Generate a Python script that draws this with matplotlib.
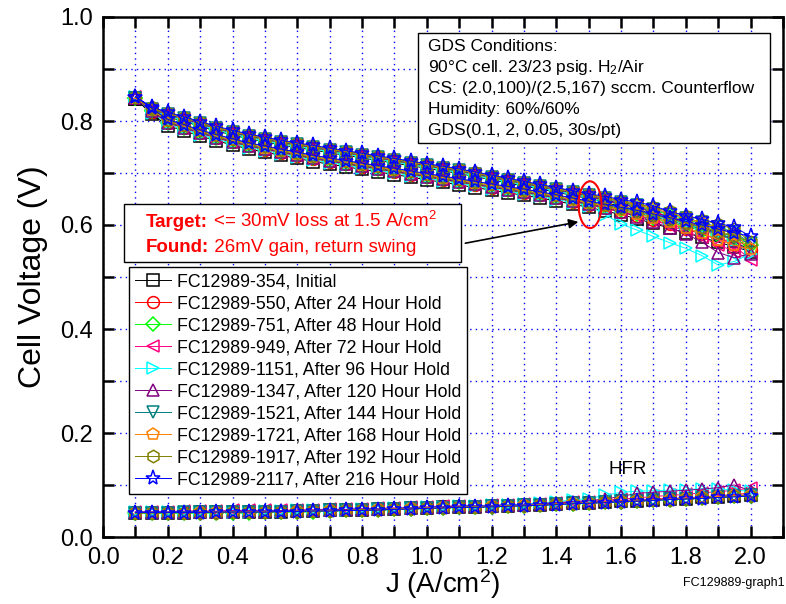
import matplotlib.pyplot as plt
from matplotlib.patches import Rectangle, Ellipse
from matplotlib.ticker import MultipleLocator

plt.rcParams['font.family'] = 'Liberation Sans'
plt.rcParams['mathtext.fontset'] = 'custom'
plt.rcParams['mathtext.rm'] = 'Liberation Sans'
plt.rcParams['mathtext.it'] = 'Liberation Sans:italic'
plt.rcParams['mathtext.bf'] = 'Liberation Sans:bold'

# current density set points (A/cm2), forward sweep 0.1 -> 2.0
J = [0.10, 0.15, 0.20, 0.25, 0.30, 0.35, 0.40, 0.45, 0.50, 0.55,
     0.60, 0.65, 0.70, 0.75, 0.80, 0.85, 0.90, 0.95, 1.00, 1.05,
     1.10, 1.15, 1.20, 1.25, 1.30, 1.35, 1.40, 1.45, 1.50, 1.55,
     1.60, 1.65, 1.70, 1.75, 1.80, 1.85, 1.90, 1.95, 2.00]
# return sweep uses the same points minus the 2.0 turn-around
J_ret = J[:-1]

# cell voltage, forward (fwd) and return (ret) sweeps, return listed low -> high current
v354_fwd = [0.843, 0.813, 0.791, 0.781, 0.771, 0.762, 0.754, 0.746, 0.740, 0.734, 0.728, 0.722, 0.717, 0.712, 0.707, 0.702, 0.697, 0.692, 0.687, 0.682, 0.677, 0.672, 0.667, 0.662, 0.657, 0.652, 0.646, 0.640, 0.634, 0.627, 0.620, 0.612, 0.603, 0.594, 0.585, 0.576, 0.567, 0.558, 0.549]
v354_ret = [0.843, 0.818, 0.808, 0.799, 0.790, 0.781, 0.773, 0.766, 0.760, 0.754, 0.749, 0.744, 0.739, 0.734, 0.729, 0.724, 0.719, 0.714, 0.709, 0.704, 0.699, 0.693, 0.687, 0.681, 0.675, 0.669, 0.663, 0.657, 0.651, 0.643, 0.636, 0.629, 0.621, 0.612, 0.603, 0.593, 0.583, 0.570]
v550_fwd = [0.844, 0.818, 0.796, 0.786, 0.776, 0.767, 0.759, 0.751, 0.745, 0.739, 0.733, 0.727, 0.722, 0.717, 0.712, 0.707, 0.702, 0.697, 0.692, 0.687, 0.682, 0.677, 0.672, 0.667, 0.662, 0.657, 0.651, 0.645, 0.639, 0.632, 0.625, 0.618, 0.610, 0.601, 0.592, 0.582, 0.572, 0.562, 0.552]
v550_ret = [0.844, 0.821, 0.811, 0.802, 0.793, 0.784, 0.776, 0.769, 0.763, 0.757, 0.752, 0.747, 0.742, 0.737, 0.732, 0.727, 0.722, 0.717, 0.712, 0.707, 0.702, 0.696, 0.690, 0.684, 0.678, 0.672, 0.666, 0.660, 0.654, 0.647, 0.640, 0.633, 0.625, 0.616, 0.607, 0.597, 0.587, 0.576]
v751_fwd = [0.845, 0.819, 0.797, 0.787, 0.777, 0.768, 0.760, 0.752, 0.746, 0.740, 0.734, 0.728, 0.723, 0.718, 0.713, 0.708, 0.703, 0.698, 0.693, 0.688, 0.683, 0.678, 0.673, 0.668, 0.663, 0.658, 0.652, 0.646, 0.640, 0.634, 0.628, 0.621, 0.613, 0.605, 0.597, 0.589, 0.580, 0.571, 0.561]
v751_ret = [0.845, 0.822, 0.812, 0.803, 0.794, 0.785, 0.777, 0.770, 0.764, 0.758, 0.753, 0.748, 0.743, 0.738, 0.733, 0.728, 0.723, 0.718, 0.713, 0.708, 0.703, 0.697, 0.691, 0.685, 0.679, 0.673, 0.667, 0.661, 0.655, 0.649, 0.642, 0.636, 0.628, 0.620, 0.611, 0.602, 0.593, 0.583]
v949_fwd = [0.846, 0.820, 0.798, 0.788, 0.778, 0.769, 0.761, 0.753, 0.747, 0.741, 0.735, 0.729, 0.724, 0.719, 0.714, 0.709, 0.704, 0.699, 0.694, 0.689, 0.684, 0.679, 0.674, 0.669, 0.664, 0.659, 0.653, 0.647, 0.641, 0.634, 0.626, 0.618, 0.609, 0.599, 0.588, 0.576, 0.562, 0.549, 0.533]
v949_ret = [0.846, 0.823, 0.813, 0.804, 0.795, 0.786, 0.778, 0.771, 0.765, 0.759, 0.754, 0.749, 0.744, 0.739, 0.734, 0.729, 0.724, 0.719, 0.714, 0.709, 0.704, 0.698, 0.692, 0.686, 0.680, 0.674, 0.668, 0.662, 0.656, 0.649, 0.642, 0.634, 0.626, 0.616, 0.605, 0.593, 0.579, 0.560]
v1151_fwd = [0.846, 0.816, 0.794, 0.784, 0.774, 0.765, 0.757, 0.749, 0.743, 0.737, 0.731, 0.725, 0.720, 0.715, 0.710, 0.705, 0.700, 0.695, 0.690, 0.685, 0.680, 0.675, 0.670, 0.665, 0.660, 0.655, 0.649, 0.643, 0.637, 0.620, 0.602, 0.590, 0.578, 0.566, 0.555, 0.541, 0.523, 0.530, 0.545]
v1151_ret = [0.846, 0.820, 0.810, 0.801, 0.792, 0.783, 0.775, 0.768, 0.762, 0.756, 0.751, 0.746, 0.741, 0.736, 0.731, 0.726, 0.721, 0.716, 0.711, 0.706, 0.701, 0.695, 0.689, 0.683, 0.677, 0.671, 0.665, 0.659, 0.653, 0.640, 0.634, 0.627, 0.619, 0.611, 0.602, 0.593, 0.583, 0.570]
v1347_fwd = [0.844, 0.819, 0.797, 0.787, 0.777, 0.768, 0.760, 0.752, 0.746, 0.740, 0.734, 0.728, 0.723, 0.718, 0.713, 0.708, 0.703, 0.698, 0.693, 0.688, 0.683, 0.678, 0.673, 0.668, 0.663, 0.658, 0.652, 0.646, 0.640, 0.633, 0.625, 0.616, 0.606, 0.595, 0.583, 0.567, 0.547, 0.537, 0.545]
v1347_ret = [0.844, 0.823, 0.813, 0.804, 0.795, 0.786, 0.778, 0.771, 0.765, 0.759, 0.754, 0.749, 0.744, 0.739, 0.734, 0.729, 0.724, 0.719, 0.714, 0.709, 0.704, 0.698, 0.692, 0.686, 0.680, 0.674, 0.668, 0.662, 0.656, 0.648, 0.641, 0.633, 0.625, 0.615, 0.605, 0.595, 0.584, 0.570]
v1521_fwd = [0.845, 0.821, 0.799, 0.789, 0.779, 0.770, 0.762, 0.754, 0.748, 0.742, 0.736, 0.730, 0.725, 0.720, 0.715, 0.710, 0.705, 0.700, 0.695, 0.690, 0.685, 0.680, 0.675, 0.670, 0.665, 0.660, 0.654, 0.648, 0.642, 0.636, 0.630, 0.623, 0.616, 0.608, 0.600, 0.592, 0.583, 0.574, 0.565]
v1521_ret = [0.845, 0.824, 0.814, 0.805, 0.796, 0.787, 0.779, 0.772, 0.766, 0.760, 0.755, 0.750, 0.745, 0.740, 0.735, 0.730, 0.725, 0.720, 0.715, 0.710, 0.705, 0.699, 0.693, 0.687, 0.681, 0.675, 0.669, 0.663, 0.657, 0.651, 0.645, 0.638, 0.631, 0.622, 0.614, 0.605, 0.596, 0.586]
v1721_fwd = [0.845, 0.822, 0.800, 0.790, 0.780, 0.771, 0.763, 0.755, 0.749, 0.743, 0.737, 0.731, 0.726, 0.721, 0.716, 0.711, 0.706, 0.701, 0.696, 0.691, 0.686, 0.681, 0.676, 0.671, 0.666, 0.661, 0.655, 0.649, 0.643, 0.636, 0.629, 0.622, 0.614, 0.605, 0.595, 0.584, 0.572, 0.561, 0.553]
v1721_ret = [0.844, 0.825, 0.815, 0.806, 0.797, 0.788, 0.780, 0.773, 0.767, 0.761, 0.756, 0.751, 0.746, 0.741, 0.736, 0.731, 0.726, 0.721, 0.716, 0.711, 0.706, 0.700, 0.694, 0.688, 0.682, 0.676, 0.670, 0.664, 0.658, 0.652, 0.646, 0.639, 0.631, 0.623, 0.614, 0.604, 0.594, 0.583]
v1917_fwd = [0.846, 0.824, 0.802, 0.792, 0.782, 0.773, 0.765, 0.757, 0.751, 0.745, 0.739, 0.733, 0.728, 0.723, 0.718, 0.713, 0.708, 0.703, 0.698, 0.693, 0.688, 0.683, 0.678, 0.673, 0.668, 0.663, 0.657, 0.651, 0.645, 0.638, 0.632, 0.626, 0.619, 0.612, 0.604, 0.596, 0.587, 0.578, 0.568]
v1917_ret = [0.846, 0.826, 0.816, 0.807, 0.798, 0.789, 0.781, 0.774, 0.768, 0.762, 0.757, 0.752, 0.747, 0.742, 0.737, 0.732, 0.727, 0.722, 0.717, 0.712, 0.707, 0.701, 0.695, 0.689, 0.683, 0.677, 0.671, 0.665, 0.659, 0.653, 0.647, 0.641, 0.634, 0.626, 0.618, 0.610, 0.601, 0.592]
v2117_fwd = [0.847, 0.825, 0.803, 0.793, 0.783, 0.774, 0.766, 0.758, 0.752, 0.746, 0.740, 0.734, 0.729, 0.724, 0.719, 0.714, 0.709, 0.704, 0.699, 0.694, 0.689, 0.684, 0.679, 0.674, 0.669, 0.664, 0.658, 0.652, 0.646, 0.640, 0.634, 0.628, 0.621, 0.614, 0.607, 0.600, 0.592, 0.585, 0.578]
v2117_ret = [0.847, 0.827, 0.817, 0.808, 0.799, 0.790, 0.782, 0.775, 0.769, 0.763, 0.758, 0.753, 0.748, 0.743, 0.738, 0.733, 0.728, 0.723, 0.718, 0.713, 0.708, 0.702, 0.696, 0.690, 0.684, 0.678, 0.672, 0.666, 0.660, 0.655, 0.649, 0.644, 0.637, 0.626, 0.618, 0.611, 0.603, 0.596]

# high frequency resistance (ohm cm2), forward sweep
hfr354 = [0.047, 0.047, 0.047, 0.047, 0.048, 0.048, 0.048, 0.048, 0.049, 0.049, 0.050, 0.050, 0.051, 0.052, 0.052, 0.053, 0.054, 0.055, 0.056, 0.057, 0.058, 0.058, 0.059, 0.060, 0.061, 0.062, 0.064, 0.065, 0.066, 0.068, 0.069, 0.070, 0.072, 0.073, 0.074, 0.076, 0.077, 0.079, 0.080]
hfr550 = [0.048, 0.048, 0.048, 0.048, 0.049, 0.049, 0.049, 0.049, 0.050, 0.050, 0.051, 0.051, 0.052, 0.053, 0.053, 0.054, 0.055, 0.056, 0.057, 0.058, 0.059, 0.059, 0.060, 0.061, 0.062, 0.063, 0.065, 0.066, 0.067, 0.069, 0.070, 0.071, 0.073, 0.074, 0.075, 0.077, 0.079, 0.082, 0.084]
hfr751 = [0.046, 0.046, 0.046, 0.046, 0.047, 0.047, 0.047, 0.047, 0.048, 0.048, 0.049, 0.049, 0.050, 0.051, 0.051, 0.052, 0.053, 0.054, 0.055, 0.056, 0.057, 0.057, 0.058, 0.059, 0.060, 0.061, 0.063, 0.064, 0.065, 0.067, 0.068, 0.069, 0.071, 0.072, 0.073, 0.075, 0.076, 0.078, 0.079]
hfr949 = [0.049, 0.049, 0.049, 0.050, 0.050, 0.050, 0.051, 0.051, 0.051, 0.051, 0.052, 0.052, 0.053, 0.053, 0.054, 0.055, 0.056, 0.057, 0.058, 0.059, 0.060, 0.060, 0.061, 0.062, 0.063, 0.064, 0.066, 0.067, 0.068, 0.071, 0.073, 0.075, 0.078, 0.080, 0.082, 0.085, 0.087, 0.090, 0.094]
hfr1151 = [0.048, 0.048, 0.048, 0.048, 0.049, 0.049, 0.049, 0.049, 0.050, 0.050, 0.051, 0.051, 0.052, 0.052, 0.053, 0.054, 0.055, 0.056, 0.057, 0.058, 0.059, 0.060, 0.061, 0.062, 0.063, 0.066, 0.068, 0.071, 0.074, 0.080, 0.086, 0.088, 0.089, 0.090, 0.091, 0.093, 0.092, 0.090, 0.088]
hfr1347 = [0.048, 0.048, 0.048, 0.048, 0.049, 0.049, 0.050, 0.050, 0.050, 0.051, 0.051, 0.052, 0.052, 0.053, 0.054, 0.054, 0.055, 0.056, 0.057, 0.058, 0.059, 0.060, 0.060, 0.061, 0.062, 0.064, 0.066, 0.068, 0.070, 0.073, 0.078, 0.084, 0.086, 0.088, 0.090, 0.092, 0.095, 0.100, 0.089]
hfr1521 = [0.047, 0.047, 0.047, 0.048, 0.048, 0.048, 0.048, 0.049, 0.049, 0.049, 0.050, 0.050, 0.051, 0.051, 0.052, 0.053, 0.054, 0.055, 0.056, 0.056, 0.057, 0.058, 0.059, 0.060, 0.061, 0.062, 0.063, 0.065, 0.066, 0.067, 0.069, 0.070, 0.071, 0.073, 0.074, 0.075, 0.077, 0.078, 0.080]
hfr1721 = [0.047, 0.047, 0.047, 0.047, 0.048, 0.048, 0.048, 0.049, 0.049, 0.049, 0.050, 0.050, 0.051, 0.051, 0.052, 0.053, 0.054, 0.055, 0.056, 0.057, 0.057, 0.058, 0.059, 0.060, 0.061, 0.062, 0.064, 0.065, 0.066, 0.068, 0.069, 0.071, 0.072, 0.073, 0.075, 0.076, 0.078, 0.080, 0.081]
hfr1917 = [0.046, 0.046, 0.047, 0.047, 0.047, 0.047, 0.048, 0.048, 0.048, 0.049, 0.049, 0.050, 0.050, 0.051, 0.052, 0.052, 0.053, 0.054, 0.055, 0.056, 0.057, 0.058, 0.058, 0.059, 0.060, 0.061, 0.063, 0.064, 0.065, 0.067, 0.068, 0.069, 0.071, 0.072, 0.073, 0.075, 0.076, 0.078, 0.079]
hfr2117 = [0.047, 0.047, 0.047, 0.047, 0.047, 0.048, 0.048, 0.048, 0.048, 0.049, 0.049, 0.050, 0.050, 0.051, 0.051, 0.052, 0.053, 0.054, 0.055, 0.056, 0.057, 0.057, 0.058, 0.059, 0.060, 0.061, 0.062, 0.064, 0.065, 0.066, 0.068, 0.069, 0.070, 0.072, 0.073, 0.074, 0.076, 0.077, 0.079]

labels = ['FC12989-354, Initial',
          'FC12989-550, After 24 Hour Hold',
          'FC12989-751, After 48 Hour Hold',
          'FC12989-949, After 72 Hour Hold',
          'FC12989-1151, After 96 Hour Hold',
          'FC12989-1347, After 120 Hour Hold',
          'FC12989-1521, After 144 Hour Hold',
          'FC12989-1721, After 168 Hour Hold',
          'FC12989-1917, After 192 Hour Hold',
          'FC12989-2117, After 216 Hour Hold']
colors = ['#000000', '#FF0000', '#00FF00', '#FF0080', '#00FFFF',
          '#800080', '#008080', '#FF8000', '#808000', '#0000FF']
markers = ['s', 'o', 'D', '<', '>', '^', 'v', 'p', 'h', '*']
msizes = [8, 8.5, 7, 8.5, 8.5, 8.5, 8.5, 9, 9, 11]

conditions = ['GDS Conditions:',
              '90\u00b0C cell. 23/23 psig. H$_2$/Air',
              'CS: (2.0,100)/(2.5,167) sccm. Counterflow',
              'Humidity: 60%/60%',
              'GDS(0.1, 2, 0.05, 30s/pt)']

fwd = [v354_fwd, v550_fwd, v751_fwd, v949_fwd, v1151_fwd,
       v1347_fwd, v1521_fwd, v1721_fwd, v1917_fwd, v2117_fwd]
ret = [v354_ret, v550_ret, v751_ret, v949_ret, v1151_ret,
       v1347_ret, v1521_ret, v1721_ret, v1917_ret, v2117_ret]
hfr = [hfr354, hfr550, hfr751, hfr949, hfr1151,
       hfr1347, hfr1521, hfr1721, hfr1917, hfr2117]

fig = plt.figure(figsize=(7.86, 6.04), dpi=100)
ax = fig.add_axes([103 / 786, 67 / 604, 680 / 786, 520 / 604])

for i in range(len(labels)):
    style = dict(color=colors[i], marker=markers[i], ms=msizes[i],
                 mfc='none', mec=colors[i], mew=1.1, lw=0.7)
    # out and back along the polarization curve
    ax.plot(J + J_ret[::-1], fwd[i] + ret[i][::-1], label=labels[i], **style)
    ax.plot(J, hfr[i], **style)

ax.set_xlim(0, 2.1)
ax.set_ylim(0, 1.0)
ax.xaxis.set_major_locator(MultipleLocator(0.2))
ax.xaxis.set_minor_locator(MultipleLocator(0.1))
ax.yaxis.set_major_locator(MultipleLocator(0.2))
ax.yaxis.set_minor_locator(MultipleLocator(0.1))
ax.xaxis.set_major_formatter('{x:.1f}')
ax.yaxis.set_major_formatter('{x:.1f}')
ax.tick_params(which='both', direction='in', top=True, right=True,
               length=8, width=1.8, labelsize=17, pad=7)
for sp in ax.spines.values():
    sp.set_linewidth(1.8)
ax.set_axisbelow(True)
ax.grid(which='both', color='#0000FF', linestyle=(0, (1, 3)), linewidth=1.0)

ax.set_xlabel('J (A/cm$^2$)', fontsize=20, labelpad=-1)
ax.set_ylabel('Cell Voltage (V)', fontsize=23, labelpad=9)

leg = ax.legend(loc='upper left', bbox_to_anchor=(0.038, 0.519),
                borderaxespad=0, fontsize=12.8, frameon=True, fancybox=False,
                framealpha=1, edgecolor='black', handlelength=2.0,
                handletextpad=0.35, labelspacing=0.28, borderpad=0.35)
leg.get_frame().set_linewidth(1.0)
leg.set_zorder(6)

# test conditions box
ax.add_patch(Rectangle((0.463, 0.758), 0.518, 0.211, transform=ax.transAxes,
                       fc='white', ec='black', lw=1.0, zorder=5))
for k, line in enumerate(conditions):
    ax.text(0.478, 0.935 - k * 0.0405, line, transform=ax.transAxes,
            fontsize=12.5, va='baseline', ha='left', zorder=6)

# target / result callout
ax.add_patch(Rectangle((0.031, 0.529), 0.495, 0.111, transform=ax.transAxes,
                       fc='white', ec='black', lw=1.0, zorder=5))
t1 = ax.text(0.063, 0.596, 'Target:', transform=ax.transAxes, color='red',
             fontsize=13.5, fontweight='bold', va='baseline', zorder=6)
ax.annotate(' <= 30mV loss at 1.5 A/cm$^2$', xy=(1, 0), xycoords=t1,
            va='bottom', ha='left', color='red', fontsize=13.5, zorder=6)
t2 = ax.text(0.063, 0.548, 'Found:', transform=ax.transAxes, color='red',
             fontsize=13.5, fontweight='bold', va='baseline', zorder=6)
ax.annotate(' 26mV gain, return swing', xy=(1, 0), xycoords=t2,
            va='bottom', ha='left', color='red', fontsize=13.5, zorder=6)

ax.annotate('', xy=(1.468, 0.606), xytext=(1.119, 0.565),
            arrowprops=dict(arrowstyle='-|>', color='black', lw=1.2,
                            mutation_scale=14, shrinkA=0, shrinkB=0),
            zorder=6)
ax.add_patch(Ellipse((1.504, 0.639), 0.071, 0.09, fill=False,
                     ec='red', lw=1.5, zorder=6))

ax.text(0.772, 0.129, 'HFR', transform=ax.transAxes, fontsize=13.5,
        ha='center', va='center')
fig.text(0.998, 0.035, 'FC129889-graph1', fontsize=9, ha='right', va='center')

fig.savefig('out.png', dpi=100)
